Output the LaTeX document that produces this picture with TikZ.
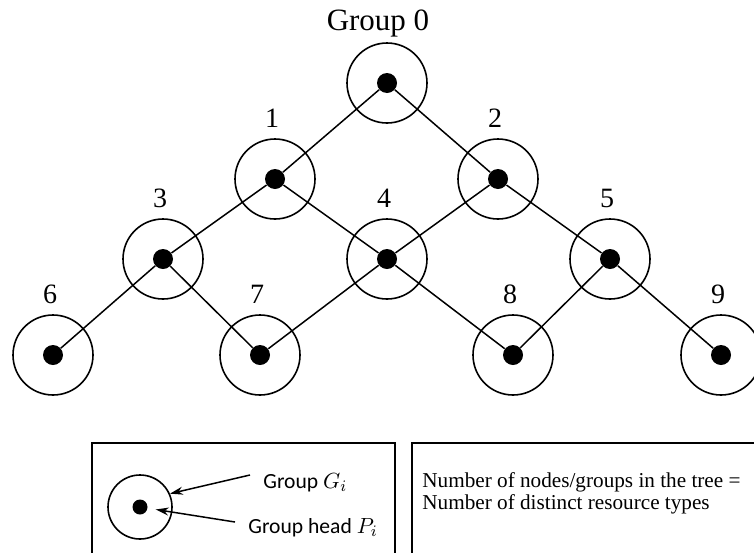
\documentclass[tikz,border=0pt]{standalone}
\usepackage{fontspec}
\setmainfont{Liberation Serif}
\newfontfamily\calib{Carlito}
\usetikzlibrary{arrows.meta,calc}

\begin{document}
\begin{tikzpicture}[x=0.5pt,y=-0.5pt,
      grp/.style={circle,draw,line width=0.8pt,minimum size=40pt,inner sep=0pt},
      head/.style={circle,fill,minimum size=10pt,inner sep=0pt},
      lbl/.style={font=\fontsize{14}{16}\selectfont,inner sep=0pt,label distance=5pt,xshift=-1.5pt},
      link/.style={line width=0.75pt},
      legtext/.style={font=\calib\fontsize{10.8}{12}\selectfont,inner sep=0pt,anchor=base west},
      >={Stealth[length=6.5pt,width=4pt]}]
  \useasboundingbox (0,0) rectangle (754,552);
  % the tree of groups
  \node[grp,label={[lbl,font=\fontsize{15.5}{18}\selectfont,label distance=2.5pt,xshift=-3pt]above:Group 0}] (g0) at (387,83) {};
  \foreach \n/\x/\y in {1/275/179,2/498/179,3/163/259,4/387/259,5/610/259,6/53/355,7/260/355,8/513/355,9/721/355}
    \node[grp,label={[lbl]above:\n}] (g\n) at (\x,\y) {};
  \foreach \n in {0,...,9}
    \node[head] (p\n) at (g\n) {};
  \foreach \a/\b in {0/1,0/2,1/3,1/4,2/4,2/5,3/6,3/7,4/7,4/8,5/8,5/9}
    \draw[link] (p\a) -- (p\b);
  % legend
  \draw[line width=1pt] (92,443) rectangle (395,580);
  \draw[line width=1pt] (412,443) rectangle (780,580);
  \node[grp,minimum size=32pt] (lg) at (140,507) {};
  \node[head,minimum size=7.5pt] (lp) at (lg) {};
  \node[legtext] (tG) at (263,488) {Group $G_i$};
  \node[legtext] (tP) at (248,533) {Group head $P_i$};
  \coordinate (aG) at (250,475);
  \coordinate (aP) at (235,522);
  \draw[->,link] (aG) -- (lg.24);
  \draw[->,link,shorten >=4pt] (aP) -- (lp);
  \node[anchor=north west,align=left,inner sep=0pt,font=\fontsize{10.6}{11.2}\selectfont] (tN) at (422,472)
    {Number of nodes/groups in the tree =\\Number of distinct resource types};
\end{tikzpicture}
\end{document}
